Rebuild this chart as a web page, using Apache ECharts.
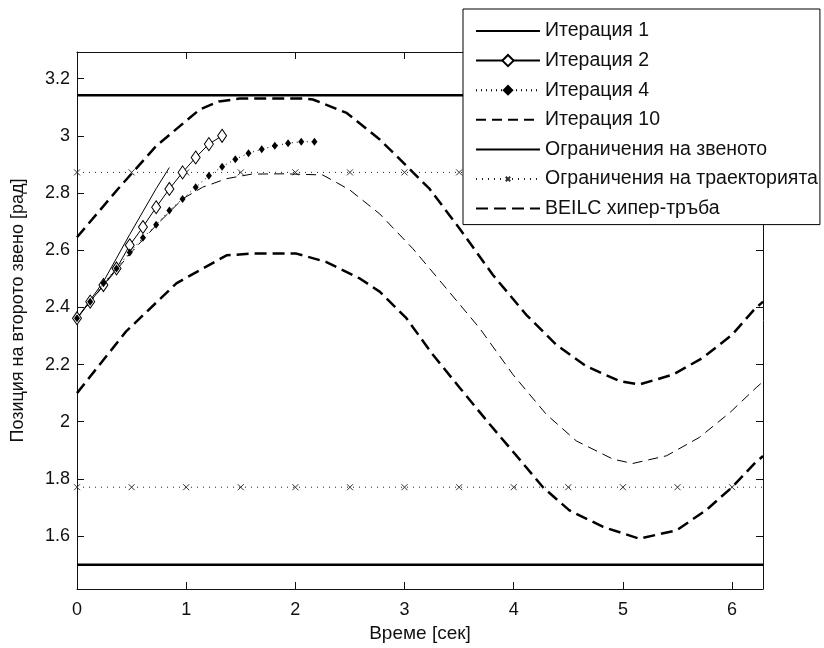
<!DOCTYPE html>
<html>
<head>
<meta charset="utf-8">
<script src="https://cdn.jsdelivr.net/npm/echarts@6/dist/echarts.min.js"></script>
<style>
html,body{margin:0;padding:0;background:#fff;}
#chart{width:824px;height:648px;}
</style>
</head>
<body>
<div id="chart"></div>
<script>
// ---- data ----
const xTicks = [0, 1, 2, 3, 4, 5, 6];
const yTicks = [1.6, 1.8, 2, 2.2, 2.4, 2.6, 2.8, 3, 3.2];
const xMax = 6.2832;
const yMin = 1.415, yMax = 3.293;

const iterTimes = [0, 0.121, 0.242, 0.362, 0.483, 0.604, 0.725, 0.846, 0.967, 1.087, 1.208, 1.329, 1.450, 1.571, 1.692, 1.812, 1.933, 2.054, 2.175];
const iter1 = [2.362, 2.425, 2.49, 2.572, 2.655, 2.735, 2.815, 2.889];
const iter2 = [2.362, 2.42, 2.478, 2.536, 2.617, 2.681, 2.75, 2.814, 2.872, 2.924, 2.971, 3.0];
const iter4 = [2.362, 2.42, 2.484, 2.536, 2.592, 2.643, 2.689, 2.739, 2.779, 2.82, 2.86, 2.892, 2.918, 2.939, 2.953, 2.965, 2.974, 2.979, 2.979];

const iter10Times = [0, 0.24, 0.48, 0.72, 0.97, 1.15, 1.37, 1.6, 1.9, 2.25, 2.375, 2.5, 2.772, 3.077, 3.383, 3.688, 3.993, 4.298, 4.573, 4.91, 5.09, 5.4, 5.70, 5.98, 6.22, 6.2832];
const iter10 = [2.362, 2.475, 2.585, 2.685, 2.78, 2.82, 2.85, 2.866, 2.867, 2.863, 2.837, 2.81, 2.727, 2.605, 2.466, 2.327, 2.165, 2.026, 1.933, 1.869, 1.854, 1.881, 1.945, 2.032, 2.119, 2.14];

const tubeUpTimes = [0, 0.375, 0.727, 1.124, 1.3, 1.49, 1.8, 2.07, 2.16, 2.47, 2.77, 2.925, 3.23, 3.505, 3.81, 4.115, 4.39, 4.665, 4.97, 5.15, 5.46, 5.73, 6.0, 6.2, 6.2832];
const tubeUp = [2.645, 2.814, 2.965, 3.092, 3.12, 3.13, 3.13, 3.13, 3.127, 3.08, 2.988, 2.93, 2.814, 2.675, 2.513, 2.374, 2.269, 2.194, 2.142, 2.13, 2.165, 2.223, 2.304, 2.391, 2.42];
const tubeLowTimes = [0, 0.45, 0.53, 0.91, 1.37, 1.61, 2.01, 2.28, 2.59, 2.772, 3.017, 3.26, 3.505, 3.78, 4.05, 4.27, 4.51, 4.82, 5.15, 5.49, 5.76, 6.0, 6.2, 6.2832];
const tubeLow = [2.10, 2.316, 2.345, 2.484, 2.582, 2.588, 2.588, 2.559, 2.501, 2.455, 2.362, 2.234, 2.119, 1.991, 1.87, 1.77, 1.69, 1.632, 1.591, 1.62, 1.69, 1.771, 1.852, 1.88];

const jointLimits = [3.1416, 1.5];
const trajLimits = [2.872, 1.771];
const trajMarkTimes = [0, 0.5, 1, 1.5, 2, 2.5, 3, 3.5, 4, 4.5, 5, 5.5, 6];

const names = ['Итерация 1', 'Итерация 2', 'Итерация 4', 'Итерация 10',
  'Ограничения на звеното', 'Ограничения на траекторията', 'BEILC хипер-тръба'];

// ---- helpers ----
const zip = (ts, vs) => vs.map((v, i) => [ts[i], v]);
const FONT = 'Liberation Sans, Arial, sans-serif';
const INK = '#111';
// "x" marker drawn in the middle of a larger (invisible) box so the legend icon stays small
const xMarker = 'path://M0,0L0,0M6,6L14,14M14,6L6,14M20,20L20,20';
const noSym = {color: 'rgba(0,0,0,0)', borderWidth: 0};

const series = [];
series.push({
  name: names[0], type: 'line', data: zip(iterTimes, iter1), symbol: 'none',
  lineStyle: {color: '#000', width: 1}, itemStyle: noSym, z: 5
});
series.push({
  name: names[1], type: 'line', data: zip(iterTimes, iter2), symbol: 'diamond', symbolSize: [9, 13],
  lineStyle: {color: '#000', width: 1},
  itemStyle: {color: '#fff', borderColor: '#000', borderWidth: 1}, z: 6
});
series.push({
  name: names[2], type: 'line', data: zip(iterTimes, iter4), symbol: 'diamond', symbolSize: [6, 8],
  lineStyle: {color: '#000', width: 1, type: [1, 4]},
  itemStyle: {color: '#000'}, z: 7
});
series.push({
  name: names[3], type: 'line', data: zip(iter10Times, iter10), symbol: 'none',
  lineStyle: {color: '#000', width: 1, type: [10, 6]}, itemStyle: noSym, z: 4
});
jointLimits.forEach(v => series.push({
  name: names[4], type: 'line', data: [[0, v], [xMax, v]], symbol: 'none',
  lineStyle: {color: '#000', width: 2.5}, itemStyle: noSym, z: 3
}));
trajLimits.forEach(v => {
  const d = trajMarkTimes.map(t => [t, v]);
  d.push({value: [xMax, v], symbol: 'none'});
  series.push({
    name: names[5], type: 'line', data: d, symbol: xMarker, symbolSize: 15,
    lineStyle: {color: '#222', width: 1, type: [1, 5]},
    itemStyle: {color: 'rgba(0,0,0,0)', borderColor: '#333', borderWidth: 1}, z: 3
  });
});
series.push({
  name: names[6], type: 'line', data: zip(tubeUpTimes, tubeUp), symbol: 'none',
  lineStyle: {color: '#000', width: 2.5, type: [12, 6]}, itemStyle: noSym, z: 2
});
series.push({
  name: names[6], type: 'line', data: zip(tubeLowTimes, tubeLow), symbol: 'none',
  lineStyle: {color: '#000', width: 2.5, type: [12, 6]}, itemStyle: noSym, z: 2
});

const axisLine = {show: true, onZero: false, lineStyle: {color: INK, width: 1}};
const tickStyle = {show: true, inside: true, length: 7, lineStyle: {color: INK, width: 1}};
const labelFont = {fontFamily: FONT, fontSize: 18, color: INK};

const option = {
  animation: false,
  backgroundColor: '#fff',
  grid: {left: 77, top: 52, width: 686, height: 540, containLabel: false},
  xAxis: [
    {type: 'value', min: 0, max: xMax, position: 'bottom',
     name: 'Време [сек]', nameLocation: 'middle', nameGap: 35,
     nameTextStyle: {fontFamily: FONT, fontSize: 19, color: INK},
     axisLine: axisLine,
     axisTick: Object.assign({customValues: xTicks}, tickStyle),
     axisLabel: Object.assign({customValues: xTicks, margin: 12}, labelFont),
     splitLine: {show: false}},
    {type: 'value', min: 0, max: xMax, position: 'top',
     axisLine: axisLine,
     axisTick: Object.assign({customValues: xTicks}, tickStyle),
     axisLabel: {show: false}, splitLine: {show: false}}
  ],
  yAxis: [
    {type: 'value', min: yMin, max: yMax, position: 'left',
     name: 'Позиция на второто звено [рад]', nameLocation: 'middle', nameGap: 50,
     nameTextStyle: {fontFamily: FONT, fontSize: 18, color: INK, padding: [0, 0, 0, 20]},
     axisLine: axisLine,
     axisTick: Object.assign({customValues: yTicks}, tickStyle),
     axisLabel: Object.assign({customValues: yTicks, margin: 7}, labelFont),
     splitLine: {show: false}},
    {type: 'value', min: yMin, max: yMax, position: 'right',
     axisLine: axisLine,
     axisTick: Object.assign({customValues: yTicks}, tickStyle),
     axisLabel: {show: false}, splitLine: {show: false}}
  ],
  legend: {
    show: true, orient: 'vertical', left: 463, top: 9,
    data: names,
    padding: [12, 2, 6, 12],
    itemWidth: 64, itemHeight: 14, itemGap: 9.6,
    backgroundColor: '#fff', borderColor: '#000', borderWidth: 1,
    textStyle: {fontFamily: FONT, fontSize: 19.5, lineHeight: 18, color: INK},
    selectedMode: false
  },
  series: series
};

const chart = echarts.init(document.getElementById('chart'), null, {renderer: 'canvas'});
chart.setOption(option);
</script>
</body>
</html>
